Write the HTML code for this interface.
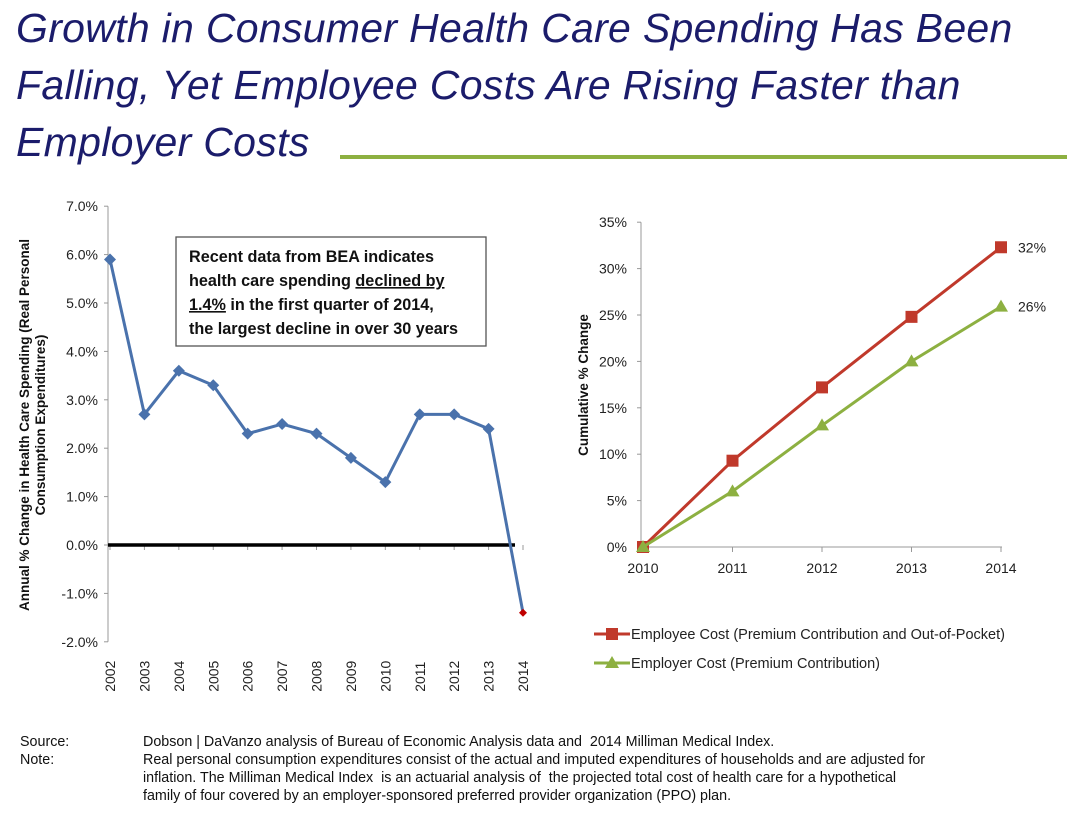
<!DOCTYPE html>
<html><head><meta charset="utf-8">
<style>
body{margin:0;background:#fff;width:1067px;height:814px;overflow:hidden;font-family:"Liberation Sans",sans-serif;}
.title{position:absolute;left:16px;top:0;font-style:italic;color:#1b1c6b;font-size:41px;line-height:57px;letter-spacing:0.3px;}
.rule{position:absolute;left:340px;top:155px;width:727px;height:4px;background:#8db041;}
.foot{position:absolute;font-size:14.3px;color:#111;line-height:18px;}
</style></head><body>
<div class="title">Growth in Consumer Health Care Spending Has Been<br>Falling, Yet Employee Costs Are Rising Faster than<br>Employer Costs</div>
<div class="rule"></div>
<svg id="s" width="1067" height="814" style="position:absolute;left:0;top:0"></svg>
<div class="foot" style="left:20px;top:733px">Source:<br>Note:</div>
<div class="foot" style="left:143px;top:733px;width:920px">Dobson | DaVanzo analysis of Bureau of Economic Analysis data and&nbsp; 2014 Milliman Medical Index.<br>Real personal consumption expenditures consist of the actual and imputed expenditures of households and are adjusted for<br>inflation. The Milliman Medical Index&nbsp; is an actuarial analysis of&nbsp; the projected total cost of health care for a hypothetical<br>family of four covered by an employer-sponsored preferred provider organization (PPO) plan.</div>
<script>
const leftYears=["2002","2003","2004","2005","2006","2007","2008","2009","2010","2011","2012","2013","2014"];
const leftValues=[5.9,2.7,3.6,3.3,2.3,2.5,2.3,1.8,1.3,2.7,2.7,2.4,-1.4];
const leftTicks=[7,6,5,4,3,2,1,0,-1,-2];
const rightYears=["2010","2011","2012","2013","2014"];
const employee=[0,9.3,17.2,24.8,32.3];
const employer=[0,6.0,13.1,20.0,25.9];
const rightTicks=[0,5,10,15,20,25,30,35];

const s=document.getElementById('s');const NS='http://www.w3.org/2000/svg';
function el(t,a,txt){const e=document.createElementNS(NS,t);for(const k in a)e.setAttribute(k,a[k]);if(txt!==undefined)e.textContent=txt;s.appendChild(e);return e;}
// left chart
const lx=i=>110+i*(413/(leftYears.length-1));
const ly=v=>545-v*48.4;
let e=el('line',{x1:108,y1:ly(7),x2:108,y2:ly(-2),stroke:'#999','stroke-width':1});

leftTicks.forEach(t=>{
 el('line',{x1:104,x2:108,y1:ly(t),y2:ly(t),stroke:'#999'});
 e=el('text',{x:98,y:ly(t)+5,'text-anchor':'end','font-size':14,fill:'#222'},t.toFixed(1)+'%');
 
});
leftYears.forEach((y,i)=>{
 el('line',{x1:lx(i),x2:lx(i),y1:ly(0),y2:ly(0)+5,stroke:'#999'});
 e=el('text',{transform:`translate(${lx(i)+5},${ly(-2)+50}) rotate(-90)`,'font-size':14,fill:'#222'},y);
 
});
e=el('line',{x1:108,x2:515,y1:ly(0),y2:ly(0),stroke:'#000','stroke-width':3.5});

e=el('polyline',{points:leftValues.map((v,i)=>lx(i)+','+ly(v)).join(' '),fill:'none',stroke:'#4a72ac','stroke-width':3});

leftValues.forEach((v,i)=>{
 const last=i===leftValues.length-1,r=last?4:6;
 e=el('polygon',{points:`${lx(i)},${ly(v)-r} ${lx(i)+r},${ly(v)} ${lx(i)},${ly(v)+r} ${lx(i)-r},${ly(v)}`,fill:last?'#c00000':'#4a72ac'});
 
});
e=el('text',{transform:'translate(29,425) rotate(-90)','text-anchor':'middle','font-size':13.5,'font-weight':'bold',fill:'#111'},'Annual % Change in Health Care Spending (Real Personal');

el('text',{transform:'translate(45,425) rotate(-90)','text-anchor':'middle','font-size':13.5,'font-weight':'bold',fill:'#111'},'Consumption Expenditures)');
e=el('rect',{x:176,y:237,width:310,height:109,fill:'#fff',stroke:'#555','stroke-width':1.3});

const ann=[['Recent data from BEA indicates',''],['health care spending ','declined by'],['1.4%',' in the first quarter of 2014,'],['the largest decline in over 30 years','']];
ann.forEach((l,i)=>{
 const t=el('text',{x:189,y:262+i*24,'font-size':16.2,'font-weight':'bold',fill:'#111'});
 
 const a=document.createElementNS(NS,'tspan');const b=document.createElementNS(NS,'tspan');
 if(i===1){a.textContent=l[0];b.textContent=l[1];b.setAttribute('text-decoration','underline');t.appendChild(a);t.appendChild(b);}
 else if(i===2){a.textContent=l[0];a.setAttribute('text-decoration','underline');b.textContent=l[1];t.appendChild(a);t.appendChild(b);}
 else t.textContent=l[0];
});
// right chart
const rx=i=>643+i*(358/(rightYears.length-1));
const ry=v=>547-v*9.28;
e=el('line',{x1:641,x2:641,y1:ry(35),y2:ry(0),stroke:'#999'});

el('line',{x1:641,x2:1002,y1:ry(0),y2:ry(0),stroke:'#999'});
rightTicks.forEach(t=>{
 el('line',{x1:637,x2:641,y1:ry(t),y2:ry(t),stroke:'#999'});
 e=el('text',{x:627,y:ry(t)+5,'text-anchor':'end','font-size':14,fill:'#222'},t+'%');
 
});
rightYears.forEach((y,i)=>{
 el('line',{x1:rx(i),x2:rx(i),y1:ry(0),y2:ry(0)+5,stroke:'#999'});
 e=el('text',{x:rx(i),y:573,'text-anchor':'middle','font-size':14,fill:'#222'},y);
 
});
e=el('text',{transform:'translate(588,385) rotate(-90)','text-anchor':'middle','font-size':13.5,'font-weight':'bold',fill:'#111'},'Cumulative % Change');

e=el('polyline',{points:employee.map((v,i)=>rx(i)+','+ry(v)).join(' '),fill:'none',stroke:'#c0392b','stroke-width':3});

employee.forEach((v,i)=>{e=el('rect',{x:rx(i)-6,y:ry(v)-6,width:12,height:12,fill:'#c0392b'});
 });
e=el('polyline',{points:employer.map((v,i)=>rx(i)+','+ry(v)).join(' '),fill:'none',stroke:'#8db041','stroke-width':3});

employer.forEach((v,i)=>{e=el('polygon',{points:`${rx(i)},${ry(v)-7} ${rx(i)+7},${ry(v)+5} ${rx(i)-7},${ry(v)+5}`,fill:'#8db041'});
 });
e=el('text',{x:1018,y:ry(employee[4])+5,'font-size':14,fill:'#222'},Math.round(employee[4])+'%');

e=el('text',{x:1018,y:ry(employer[4])+5,'font-size':14,fill:'#222'},Math.round(employer[4])+'%');

// legend
el('line',{x1:594,x2:630,y1:634,y2:634,stroke:'#c0392b','stroke-width':3});
el('rect',{x:606,y:628,width:12,height:12,fill:'#c0392b'});
e=el('text',{x:631,y:639,'font-size':14.5,fill:'#222'},'Employee Cost (Premium Contribution and Out-of-Pocket)');

el('line',{x1:594,x2:630,y1:663,y2:663,stroke:'#8db041','stroke-width':3});
el('polygon',{points:'612,656 619,668 605,668',fill:'#8db041'});
e=el('text',{x:631,y:668,'font-size':14.5,fill:'#222'},'Employer Cost (Premium Contribution)');

</script>
</body></html>
